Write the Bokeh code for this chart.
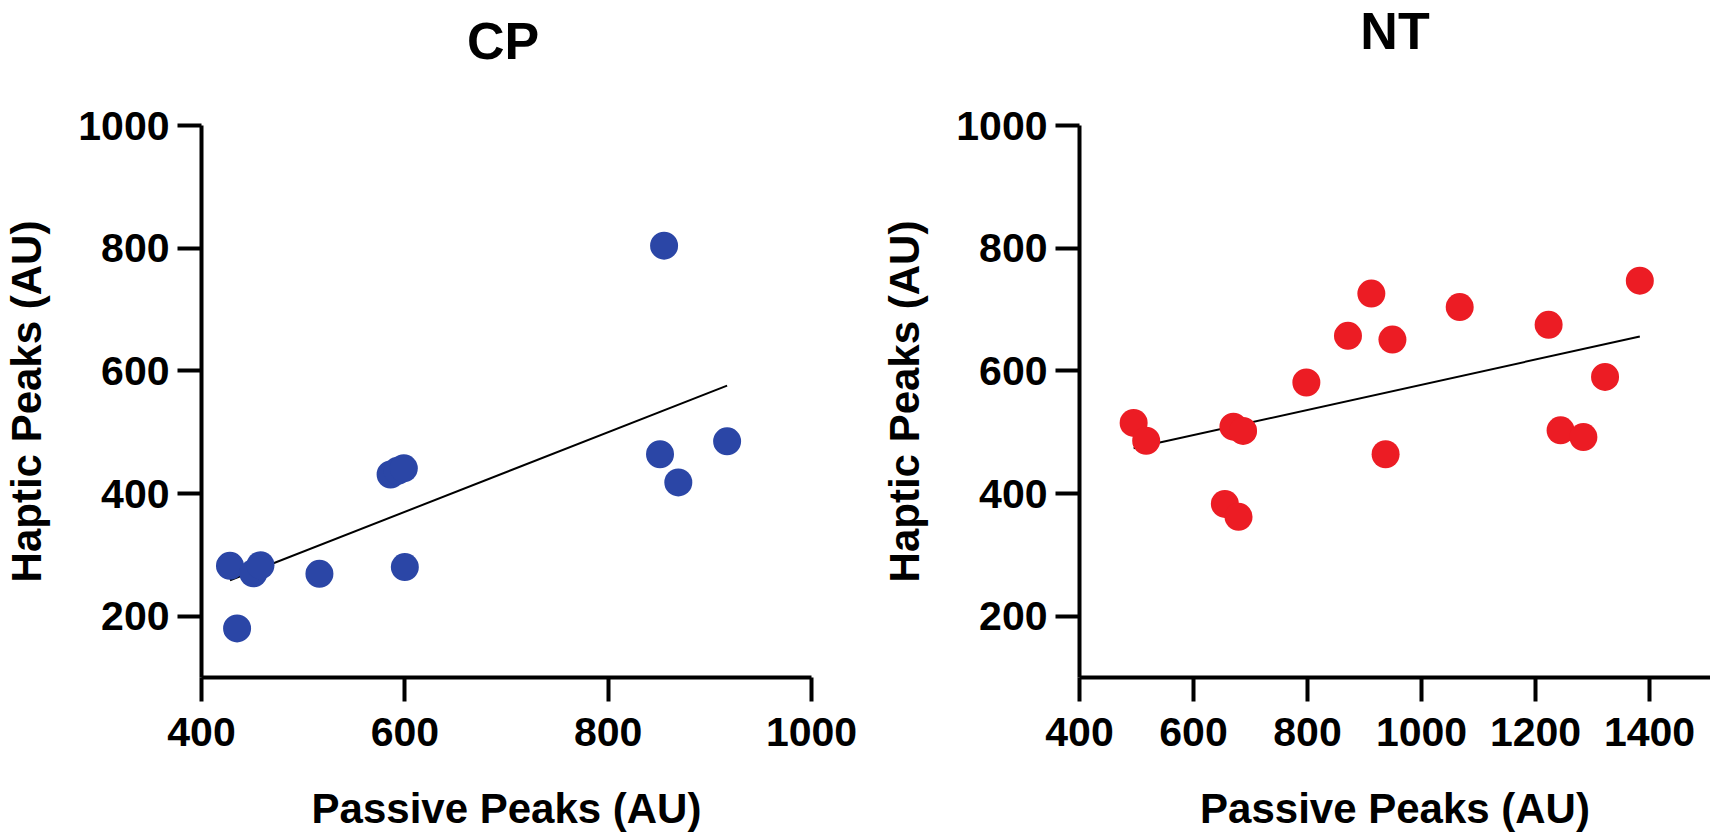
import numpy as np
from bokeh.plotting import figure
from bokeh.layouts import row, column
from bokeh.models import FixedTicker, Range1d
from bokeh.core.properties import value
from bokeh.embed import file_html
from bokeh.resources import INLINE

# ---- data ----
cp_passive = [855, 917, 851, 869, 586, 593, 599, 600, 516, 428, 451, 458, 435]
cp_haptic = [804, 485, 464, 418, 431, 437, 441, 280, 269, 282, 270, 283, 180]

nt_passive = [495, 517, 655, 679, 670, 687, 798, 871, 912, 949, 937, 1067, 1223, 1244, 1284, 1322, 1383]
nt_haptic = [515, 486, 383, 362, 509, 502, 581, 657, 726, 651, 464, 704, 675, 503, 492, 590, 747]

cp_xticks = [400, 600, 800, 1000]
nt_xticks = [400, 600, 800, 1000, 1200, 1400]
yticks = [200, 400, 600, 800, 1000]
titles = ["CP", "NT"]

FONT = "Liberation Sans"
BLUE = "#2b46a6"
RED = "#ec1c24"
TITLE_H = 76
TOTAL_H = 834


def make(xs, ys, color, xr, xticks, width, height, mb, ylab_standoff):
    p = figure(width=width, height=height, output_backend="svg", toolbar_location=None,
               x_range=Range1d(*xr), y_range=Range1d(100, 1000),
               min_border_left=mb[0], min_border_right=mb[1],
               min_border_top=mb[2], min_border_bottom=mb[3])
    p.outline_line_color = None
    p.grid.visible = False
    p.background_fill_color = "white"
    p.border_fill_color = "white"
    for ax in (p.xaxis[0], p.yaxis[0]):
        ax.axis_line_width = 4
        ax.axis_line_color = "black"
        ax.major_tick_line_width = 4
        ax.major_tick_line_color = "black"
        ax.major_tick_out = 24
        ax.major_tick_in = 0
        ax.minor_tick_line_color = None
        ax.major_label_text_font = FONT
        ax.major_label_text_font_size = "41px"
        ax.major_label_text_font_style = "bold"
        ax.major_label_text_color = "black"
        ax.axis_label_text_font = FONT
        ax.axis_label_text_font_size = "42px"
        ax.axis_label_text_font_style = "bold"
        ax.axis_label_text_color = "black"
    p.xaxis.ticker = FixedTicker(ticks=xticks)
    p.yaxis.ticker = FixedTicker(ticks=yticks)
    p.xaxis.axis_label = "Passive Peaks (AU)"
    p.yaxis.axis_label = "Haptic Peaks (AU)"
    p.xaxis.major_label_standoff = 16
    p.yaxis.major_label_standoff = 8
    p.xaxis.axis_label_standoff = 36
    p.yaxis.axis_label_standoff = ylab_standoff

    # regression line (least squares fit over the data range)
    k, b = np.polyfit(xs, ys, 1)
    lx = np.array([min(xs), max(xs)])
    p.line(lx, k * lx + b, line_color="black", line_width=2)
    p.scatter(xs, ys, size=28, fill_color=color, line_color=None)
    return p


def title_fig(text, width, cx, center_from_top):
    t = figure(width=width, height=TITLE_H, output_backend="svg", toolbar_location=None,
               x_range=Range1d(0, width), y_range=Range1d(0, TITLE_H),
               min_border=0, min_border_left=0, min_border_right=0,
               min_border_top=0, min_border_bottom=0)
    t.axis.visible = False
    t.grid.visible = False
    t.outline_line_color = None
    t.border_fill_color = "white"
    t.text(x=[cx], y=[TITLE_H - center_from_top], text=[text],
           text_font=value(FONT), text_font_size="52px", text_font_style="bold",
           text_color="black", text_align="center", text_baseline="middle")
    return t


W1, W2 = 868, 842
# borders: left, right, top, bottom
mb1 = (194, 57, 125 - TITLE_H, TOTAL_H - 680)
mb2 = (211, 0, 113 - TITLE_H, TOTAL_H - 680)

p1 = make(cp_passive, cp_haptic, BLUE, (400, 1000), cp_xticks, W1, TOTAL_H - TITLE_H, mb1, 25)
p2 = make(nt_passive, nt_haptic, RED, (400, 1507), nt_xticks, W2, TOTAL_H - TITLE_H, mb2, 25)

# titles centred over each plot frame
t1 = title_fig(titles[0], W1, (mb1[0] + W1 - mb1[1]) / 2, 40)
t2 = title_fig(titles[1], W2, (mb2[0] + W2 - mb2[1]) / 2, 30)

layout = column(row(t1, t2), row(p1, p2))
open("out.html", "w").write(file_html(layout, INLINE))
